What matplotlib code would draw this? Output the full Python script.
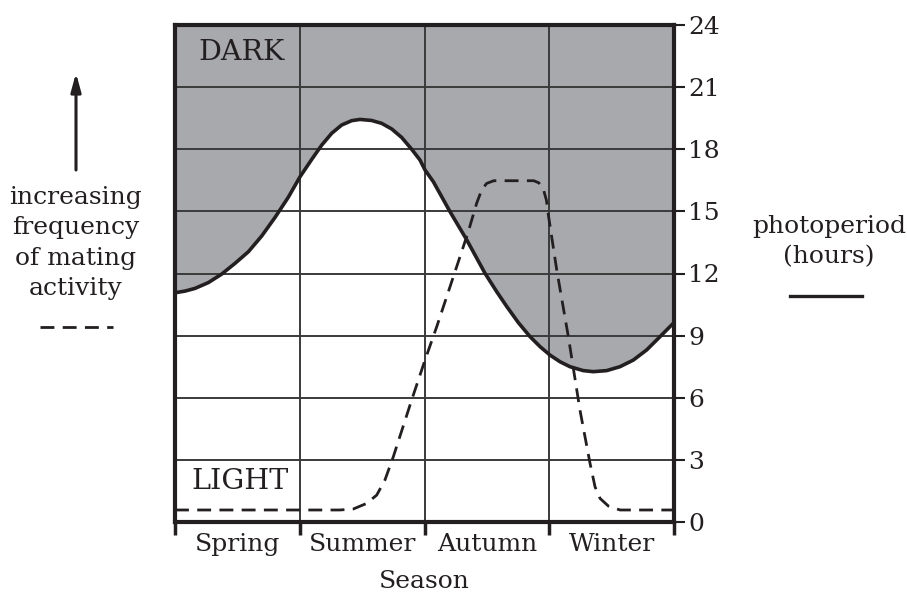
import matplotlib
matplotlib.use("Agg")
import matplotlib.pyplot as plt
from matplotlib.lines import Line2D

# season position (0 = start of spring, 4 = end of winter), photoperiod in hours
photo_x = [0, 0.080, 0.160, 0.267, 0.374, 0.481, 0.588, 0.695, 0.802, 0.908, 1.002,
           1.096, 1.176, 1.256, 1.336, 1.416, 1.483, 1.576, 1.657, 1.737, 1.817, 1.897,
           1.964, 2.004, 2.071, 2.205, 2.339, 2.485, 2.579, 2.660, 2.752, 2.846, 2.926,
           3.006, 3.086, 3.166, 3.273, 3.353, 3.460, 3.567, 3.674, 3.781, 3.888, 4.0]
photo_h = [11.07, 11.15, 11.28, 11.56, 11.97, 12.49, 13.05, 13.81, 14.71, 15.68, 16.67,
           17.51, 18.20, 18.77, 19.17, 19.38, 19.44, 19.39, 19.25, 18.98, 18.57, 18.0,
           17.48, 17.0, 16.43, 14.98, 13.62, 12.01, 11.12, 10.40, 9.63, 8.95, 8.47,
           8.06, 7.74, 7.50, 7.31, 7.26, 7.31, 7.50, 7.82, 8.31, 8.95, 9.63]

# mating activity (drawn on the same vertical scale)
mating_x = [0, 1.323, 1.43, 1.537, 1.617, 1.683, 1.75, 1.897, 2.004, 2.098, 2.258,
            2.351, 2.418, 2.458, 2.498, 2.555, 2.876, 2.916, 2.951, 2.977, 2.995,
            3.060, 3.153, 3.246, 3.327, 3.367, 3.407, 3.474, 3.567, 4.0]
mating_f = [0.58, 0.58, 0.63, 0.90, 1.30, 2.03, 3.15, 5.89, 7.82, 9.43, 12.33,
            14.02, 15.39, 16.03, 16.35, 16.48, 16.48, 16.38, 16.11, 15.55, 14.74,
            12.17, 8.95, 5.41, 2.83, 1.70, 1.14, 0.77, 0.58, 0.58]

seasons = ["Spring", "Summer", "Autumn", "Winter"]
hour_ticks = [0, 3, 6, 9, 12, 15, 18, 21, 24]

ink = "#231f20"
gray = "#a7a9ac"
plt.rcParams["font.family"] = ["DejaVu Serif"]
fs = 18

fig = plt.figure(figsize=(9.07, 5.92), dpi=100)
ax = fig.add_axes([175 / 907, 1 - 522 / 592, 499 / 907, 497 / 592])

# dark part of the day
ax.fill_between(photo_x, photo_h, 24, color=gray, linewidth=0, zorder=1)
ax.plot(photo_x, photo_h, color=ink, lw=2.6, zorder=3, solid_joinstyle="round")
ax.plot(mating_x, mating_f, color=ink, lw=2.0, dashes=(5, 3), zorder=3)

ax.set_xlim(0, 4)
ax.set_ylim(0, 24)

# grid
for h in hour_ticks[1:-1]:
    ax.axhline(h, color="#3a3a3a", lw=1.4, zorder=2)
for s in [1, 2, 3]:
    ax.axvline(s, color="#3a3a3a", lw=1.4, zorder=2)

for sp in ax.spines.values():
    sp.set_linewidth(3)
    sp.set_color(ink)
    sp.set_zorder(4)

ax.yaxis.tick_right()
ax.set_yticks(hour_ticks)
ax.set_yticklabels([str(h) for h in hour_ticks])
ax.tick_params(axis="y", direction="out", length=8, width=1.5, colors=ink,
               labelsize=fs, pad=2)

ax.set_xticks([0, 1, 2, 3, 4])
ax.set_xticklabels([])
ax.set_xticks([0.5, 1.5, 2.5, 3.5], minor=True)
ax.set_xticklabels(seasons, minor=True)
ax.tick_params(axis="x", which="major", direction="out", length=9, width=2.5, colors=ink)
ax.tick_params(axis="x", which="minor", length=0, labelsize=fs, pad=8, labelcolor=ink)
ax.set_xlabel("Season", fontsize=fs, color=ink, labelpad=10)

ax.text(0.133, 0.944, "DARK", transform=ax.transAxes, fontsize=20.5, color=ink,
        ha="center", va="center")
ax.text(0.131, 0.081, "LIGHT", transform=ax.transAxes, fontsize=20.5, color=ink,
        ha="center", va="center")

# left annotation
fig.text(76 / 907, 1 - 243 / 592, "increasing\nfrequency\nof mating\nactivity",
         fontsize=fs, color=ink, ha="center", va="center", linespacing=1.4)
ax.annotate("", xy=(76 / 907, 1 - 73 / 592), xytext=(76 / 907, 1 - 170 / 592),
            xycoords="figure fraction", textcoords="figure fraction",
            arrowprops=dict(arrowstyle="-|>,head_length=1.1,head_width=0.3",
                            color=ink, lw=2.2, shrinkA=0, shrinkB=0))
fig.add_artist(Line2D([40 / 907, 113 / 907], [1 - 327 / 592] * 2, transform=fig.transFigure,
                      color=ink, lw=2.0, dashes=(5, 3)))

# right annotation
fig.text(829 / 907, 1 - 242 / 592, "photoperiod\n(hours)", fontsize=fs, color=ink,
         ha="center", va="center", linespacing=1.4)
fig.add_artist(Line2D([790 / 907, 862 / 907], [1 - 296 / 592] * 2, transform=fig.transFigure,
                      color=ink, lw=2.4))

fig.savefig("out.png", dpi=100)
